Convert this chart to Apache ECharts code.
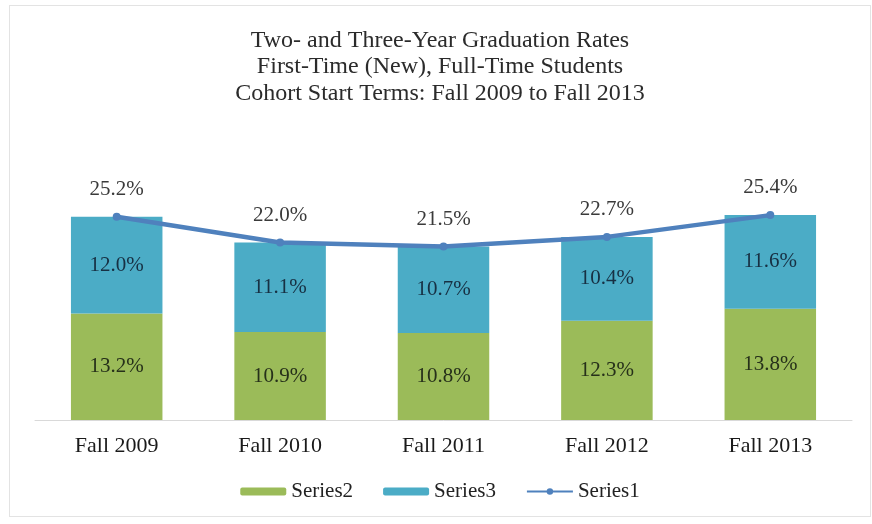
<!DOCTYPE html>
<html>
<head>
<meta charset="utf-8">
<script src="https://cdn.jsdelivr.net/npm/echarts@6/dist/echarts.min.js"></script>
<style>
  html, body { margin: 0; padding: 0; background: #fff; }
  #main {
    position: absolute; left: 9px; top: 5px;
    width: 860px; height: 510px;
    border: 1px solid #e3e3e3;
  }
</style>
</head>
<body>
<div id="main"></div>
<script>
// data
var categories = ['Fall 2009', 'Fall 2010', 'Fall 2011', 'Fall 2012', 'Fall 2013'];
var series2 = [13.2, 10.9, 10.8, 12.3, 13.8];   // green, bottom
var series3 = [12.0, 11.1, 10.7, 10.4, 11.6];   // blue, top
var series1 = [25.2, 22.0, 21.5, 22.7, 25.4];   // line, total

var font = '"Liberation Serif", "Times New Roman", serif';
var pct = function (p) { return p.value.toFixed(1) + '%'; };

var chart = echarts.init(document.getElementById('main'));
chart.setOption({
  animation: false,
  textStyle: { fontFamily: font },
  title: {
    text: 'Two- and Three-Year Graduation Rates\nFirst-Time (New), Full-Time Students\nCohort Start Terms: Fall 2009 to Fall 2013',
    left: 'center',
    top: 16,
    textStyle: { fontFamily: font, fontSize: 24, fontWeight: 'normal', color: '#2b2b2b', lineHeight: 26.5 }
  },
  legend: {
    data: ['Series2', 'Series3', 'Series1'],
    bottom: 9,
    left: 'center',
    itemWidth: 46,
    itemHeight: 8,
    itemGap: 30,
    textStyle: { fontFamily: font, fontSize: 21, color: '#222' }
  },
  grid: { left: 25, right: 18, top: 172, bottom: 96 },
  xAxis: {
    type: 'category',
    data: categories,
    axisLine: { lineStyle: { color: '#d9d9d9' } },
    axisTick: { show: false },
    axisLabel: { fontFamily: font, fontSize: 22, color: '#1a1a1a', margin: 15 }
  },
  yAxis: {
    type: 'value',
    min: 0,
    max: 30,
    show: false,
    splitLine: { show: false }
  },
  series: [
    {
      name: 'Series2',
      type: 'bar',
      stack: 'rate',
      barWidth: '56%',
      data: series2,
      itemStyle: { color: '#9BBB59' },
      label: { show: true, position: 'inside', formatter: pct, fontFamily: font, fontSize: 21, color: '#26301a' }
    },
    {
      name: 'Series3',
      type: 'bar',
      stack: 'rate',
      data: series3,
      itemStyle: { color: '#4BACC6' },
      label: { show: true, position: 'inside', formatter: pct, fontFamily: font, fontSize: 21, color: '#173043' }
    },
    {
      name: 'Series1',
      type: 'line',
      data: series1,
      symbol: 'circle',
      symbolSize: 8,
      lineStyle: { color: '#4F81BD', width: 4.5 },
      itemStyle: { color: '#4F81BD' },
      label: { show: true, position: 'top', distance: 13, formatter: pct, fontFamily: font, fontSize: 21, color: '#3a3a3a' },
      z: 5
    }
  ]
});
</script>
</body>
</html>
